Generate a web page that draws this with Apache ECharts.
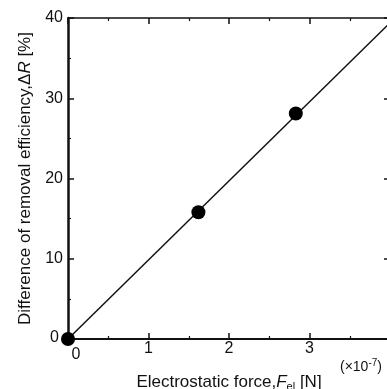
<!DOCTYPE html>
<html><head><meta charset="utf-8">
<script src="https://cdn.jsdelivr.net/npm/echarts@6/dist/echarts.min.js"></script>
<style>html,body{margin:0;padding:0;background:#fff}#c{width:387px;height:389px}</style>
</head><body><div id="c"></div>
<script>
const forceX = [0, 1.62, 2.83];          // ×10^-7 N
const deltaR = [0, 15.8, 28.1];          // %
const fitX = [0, 4];
const fitY = [0, 39.4];
const xTicks = [0, 1, 2, 3, 4];
const yTicks = [0, 10, 20, 30, 40];

const FONT = 'Liberation Sans';
const chart = echarts.init(document.getElementById('c'));
function axisCommon(w) {
  return {
    axisLine: {show: true, onZero: false, lineStyle: {color: '#111', width: w}},
    axisTick: {show: true, inside: true, length: 6, lineStyle: {color: '#111', width: 1.5}},
    minorTick: {show: true, splitNumber: 2, length: 3, lineStyle: {color: '#111', width: 1.2}},
    splitLine: {show: false}
  };
}
chart.setOption({
  animation: false,
  grid: {left: 68, top: 18, width: 322, height: 321, containLabel: false, outerBoundsMode: 'none'},
  xAxis: [
    Object.assign(axisCommon(2), {
      type: 'value', min: 0, max: 4, interval: 1, position: 'bottom',
      axisLabel: {color: '#111', fontFamily: FONT, fontSize: 16, margin: 2,
        formatter: v => v === 0 ? '{z|0}' : (v === 4 ? '' : '{n|' + v + '}'),
        rich: {
          n: {fontFamily: FONT, fontSize: 16, color: '#111'},
          z: {fontFamily: FONT, fontSize: 16, color: '#111', padding: [6, 0, 0, 16]}
        }},
      name: '{t|Electrostatic force,}{i|F}{s|el}{t| [N]}',
      nameLocation: 'middle', nameGap: 34,
      nameTextStyle: {rich: {
        t: {fontFamily: FONT, fontSize: 17, color: '#111'},
        i: {fontFamily: FONT, fontSize: 17, fontStyle: 'italic', color: '#111'},
        s: {fontFamily: FONT, fontSize: 11, color: '#111', padding: [8, 0, 0, 0]}
      }}
    }),
    Object.assign(axisCommon(1.5), {
      type: 'value', min: 0, max: 4, interval: 1, position: 'top',
      axisLabel: {show: false}
    })
  ],
  yAxis: [
    Object.assign(axisCommon(2.5), {
      type: 'value', min: 0, max: 40, interval: 10, position: 'left',
      axisLabel: {color: '#111', fontFamily: FONT, fontSize: 16, margin: 5,
        formatter: v => v === 0 ? '{z|0}' : '{n|' + v + '}',
        rich: {
          n: {fontFamily: FONT, fontSize: 16, color: '#111'},
          z: {fontFamily: FONT, fontSize: 16, color: '#111', padding: [0, 4, 3, 0]}
        }},
      name: '{t|Difference of removal efficiency,Δ}{i|R}{t| [%]}',
      nameLocation: 'middle', nameGap: 34, nameRotate: 90,
      nameTextStyle: {rich: {
        t: {fontFamily: FONT, fontSize: 17, color: '#111'},
        i: {fontFamily: FONT, fontSize: 17, fontStyle: 'italic', color: '#111'}
      }}
    }),
    Object.assign(axisCommon(1.5), {
      type: 'value', min: 0, max: 40, interval: 10, position: 'right',
      axisLabel: {show: false}
    })
  ],
  graphic: [{
    type: 'text', left: 340, top: 358,
    style: {text: '{a|(×10}{b|-7}{a|)}', rich: {
      a: {fontFamily: FONT, fontSize: 14, fill: '#111'},
      b: {fontFamily: FONT, fontSize: 10, fill: '#111', padding: [0, 0, 9, 0]}
    }}
  }],
  series: [
    {type: 'line', data: fitX.map((x, i) => [x, fitY[i]]), symbol: 'none',
     lineStyle: {color: '#111', width: 1.5}, z: 2, silent: true},
    {type: 'scatter', data: forceX.map((x, i) => [x, deltaR[i]]), symbolSize: 14,
     itemStyle: {color: '#000', opacity: 1}, z: 3}
  ]
});
</script></body></html>
